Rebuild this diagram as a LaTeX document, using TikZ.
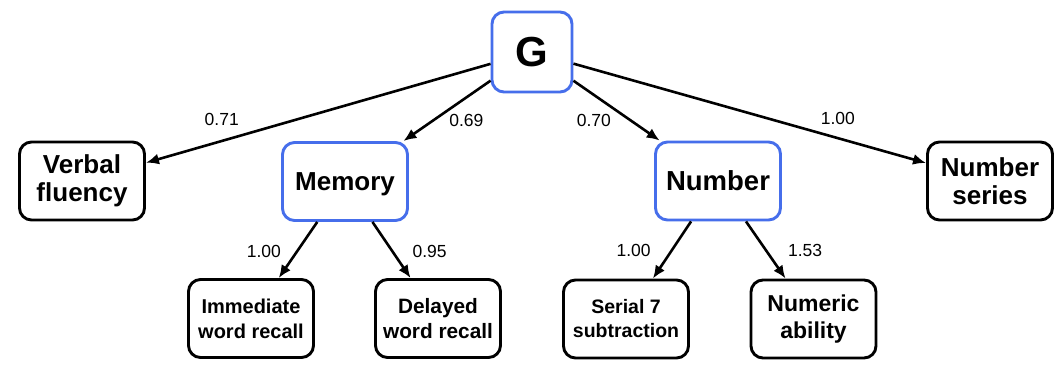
\documentclass[tikz,border=0pt]{standalone}
\usepackage{fontspec}
\setmainfont{Liberation Sans}
\usetikzlibrary{arrows.meta}
\definecolor{boxblue}{RGB}{70,110,235}

\begin{document}
\begin{tikzpicture}[
      x=1pt,y=-1pt,
      >={Latex[length=13pt,width=11pt]},
      box/.style={
        draw,line width=2.9pt,rounded corners=12pt,fill=white,
        minimum width=125pt,minimum height=78pt,inner sep=0pt,align=center
      },
      latent/.style={box,draw=boxblue},
      link/.style={line width=2.6pt,->},
      lbl/.style={font=\fontsize{17.5}{20}\selectfont,inner sep=2pt},
    ]
    \useasboundingbox[fill=white] (0,0) rectangle (1062,372);
    \node[latent,minimum width=80pt,minimum height=80pt,font=\bfseries\fontsize{42}{44}\selectfont] (g) at (532,52) {G};
    \node[box,font=\bfseries\fontsize{26}{28}\selectfont] (verb) at (82,181) {Verbal\\fluency};
    \node[latent,text depth=0pt,font=\bfseries\fontsize{26}{28}\selectfont] (mem) at (345,181.5) {Memory};
    \node[latent,font=\bfseries\fontsize{27.5}{29}\selectfont] (num) at (718,181) {Number};
    \node[box,font=\bfseries\fontsize{26}{28}\selectfont] (nser) at (990,181) {Number\\series};
    \node[box,font=\bfseries\fontsize{20}{25}\selectfont] (imm) at (251,318.5) {Immediate\\word recall};
    \node[box,font=\bfseries\fontsize{20.8}{25}\selectfont] (del) at (438,318.5) {Delayed\\word recall};
    \node[box,font=\bfseries\fontsize{19.5}{24}\selectfont] (ser) at (626,319) {Serial 7\\subtraction};
    \node[box,font=\bfseries\fontsize{23}{27}\selectfont] (nab) at (813.5,319) {Numeric\\ability};
    % loadings from G
    \draw[link] (g) -- (verb) node[lbl,pos=0.78,anchor=south,yshift=12pt] {0.71};
    \draw[link] (g) -- (mem) node[lbl,pos=0.66,anchor=west,xshift=13pt] {0.69};
    \draw[link] (g) -- (num) node[lbl,pos=0.67,anchor=east,xshift=-17pt] {0.70};
    \draw[link] (g) -- (nser) node[lbl,pos=0.75,anchor=south,yshift=10pt] {1.00};
    % loadings from the group factors
    \draw[link] (mem) -- (imm) node[lbl,pos=0.52,anchor=east,xshift=-13pt] {1.00};
    \draw[link] (mem) -- (del) node[lbl,pos=0.52,anchor=west,xshift=17pt] {0.95};
    \draw[link] (num) -- (ser) node[lbl,pos=0.5,anchor=east,xshift=-18pt] {1.00};
    \draw[link] (num) -- (nab) node[lbl,pos=0.5,anchor=west,xshift=19pt] {1.53};
  \end{tikzpicture}
\end{document}
